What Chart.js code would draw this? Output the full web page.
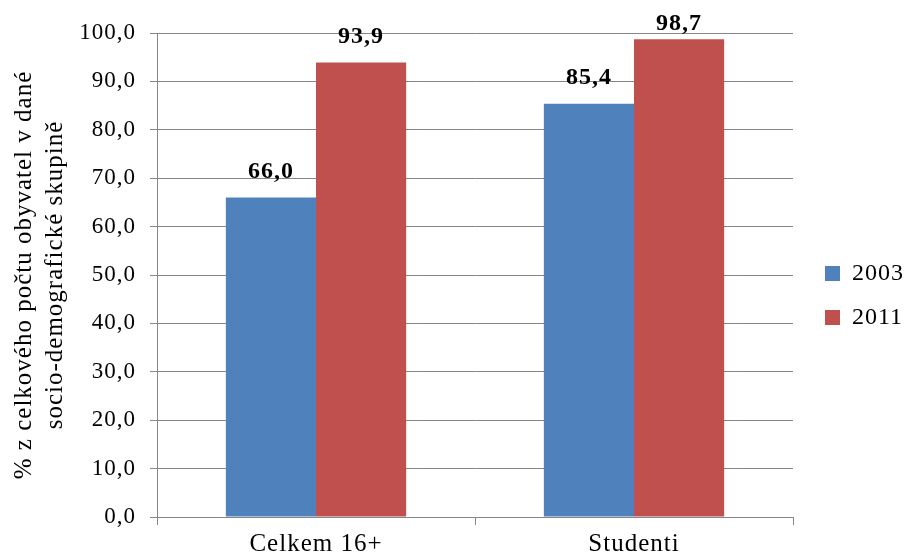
<!DOCTYPE html>
<html>
<head>
<meta charset="utf-8">
<script src="https://cdn.jsdelivr.net/npm/chart.js@4/dist/chart.umd.min.js"></script>
<style>
  html, body { margin: 0; padding: 0; background: #ffffff; }
  #wrap { width: 907px; height: 558px; position: relative; }
</style>
</head>
<body>
<div id="wrap"><canvas id="c" width="907" height="558"></canvas></div>
<script>
// Categories and series values
const categories = ['Celkem 16+', 'Studenti'];
const series2003 = [66.0, 85.4];
const series2011 = [93.9, 98.7];
const seriesLabels = ['2003', '2011'];
const axisTitle = ['% z celkového počtu obyvatel v dané', 'socio-demografické skupině'];

const fmt = v => Number(v).toFixed(1).replace('.', ',');
const serif = 'Liberation Serif, "Times New Roman", serif';

// Slightly wider glyph spacing for all chart text
const textSpacing = {
  id: 'textSpacing',
  beforeUpdate(chart) { chart.ctx.letterSpacing = '1px'; },
  beforeDraw(chart) { chart.ctx.letterSpacing = '1px'; }
};

// Moves the legend a little towards the right edge
const legendShift = {
  id: 'legendShift',
  afterLayout(chart) {
    const lg = chart.legend;
    if (lg) { lg.left += 12; lg.right += 12; }
  }
};

// Draws the bold value above each bar, kept inside the canvas near the top
const valueLabels = {
  id: 'valueLabels',
  afterDatasetsDraw(chart) {
    const ctx = chart.ctx;
    const minY = chart.chartArea.top - 9;
    ctx.save();
    ctx.font = 'bold 24px ' + serif;
    ctx.fillStyle = '#000000';
    ctx.textAlign = 'center';
    ctx.textBaseline = 'middle';
    chart.data.datasets.forEach((ds, i) => {
      const meta = chart.getDatasetMeta(i);
      meta.data.forEach((bar, j) => {
        ctx.fillText(fmt(ds.data[j]), bar.x, Math.max(bar.y - 26, minY));
      });
    });
    ctx.restore();
  }
};

new Chart(document.getElementById('c'), {
  type: 'bar',
  data: {
    labels: categories,
    datasets: [
      { label: seriesLabels[0], data: series2003, backgroundColor: '#4F81BD' },
      { label: seriesLabels[1], data: series2011, backgroundColor: '#C0504D' }
    ]
  },
  options: {
    responsive: false,
    animation: false,
    events: [],
    layout: { padding: { top: 33, right: 5, left: 4, bottom: 0 } },
    datasets: { bar: { categoryPercentage: 0.567, barPercentage: 1.0 } },
    plugins: {
      tooltip: { enabled: false },
      legend: {
        position: 'right',
        align: 'center',
        labels: {
          font: { family: serif, size: 24 },
          color: '#000000',
          boxWidth: 15,
          boxHeight: 15,
          padding: 20
        }
      }
    },
    scales: {
      x: {
        afterFit(scale) { scale.height = 41; },
        grid: {
          offset: true,
          drawOnChartArea: false,
          drawTicks: true,
          tickLength: 8,
          color: '#868686',
          lineWidth: 1
        },
        border: { color: '#868686', width: 1 },
        ticks: {
          font: { family: serif, size: 25 },
          color: '#000000',
          padding: 4
        }
      },
      y: {
        min: 0,
        max: 100,
        afterFit(scale) { scale.width = 153; },
        ticks: {
          stepSize: 10,
          font: { family: serif, size: 23 },
          color: '#000000',
          padding: 14,
          callback: v => fmt(v)
        },
        grid: {
          color: '#868686',
          lineWidth: 1,
          tickLength: 7
        },
        border: { color: '#868686', width: 1 },
        title: {
          display: true,
          text: axisTitle,
          font: { family: serif, size: 25, lineHeight: 1.24 },
          color: '#000000',
          padding: { top: 5, bottom: 0 }
        }
      }
    }
  },
  plugins: [textSpacing, legendShift, valueLabels]
});
</script>
</body>
</html>
